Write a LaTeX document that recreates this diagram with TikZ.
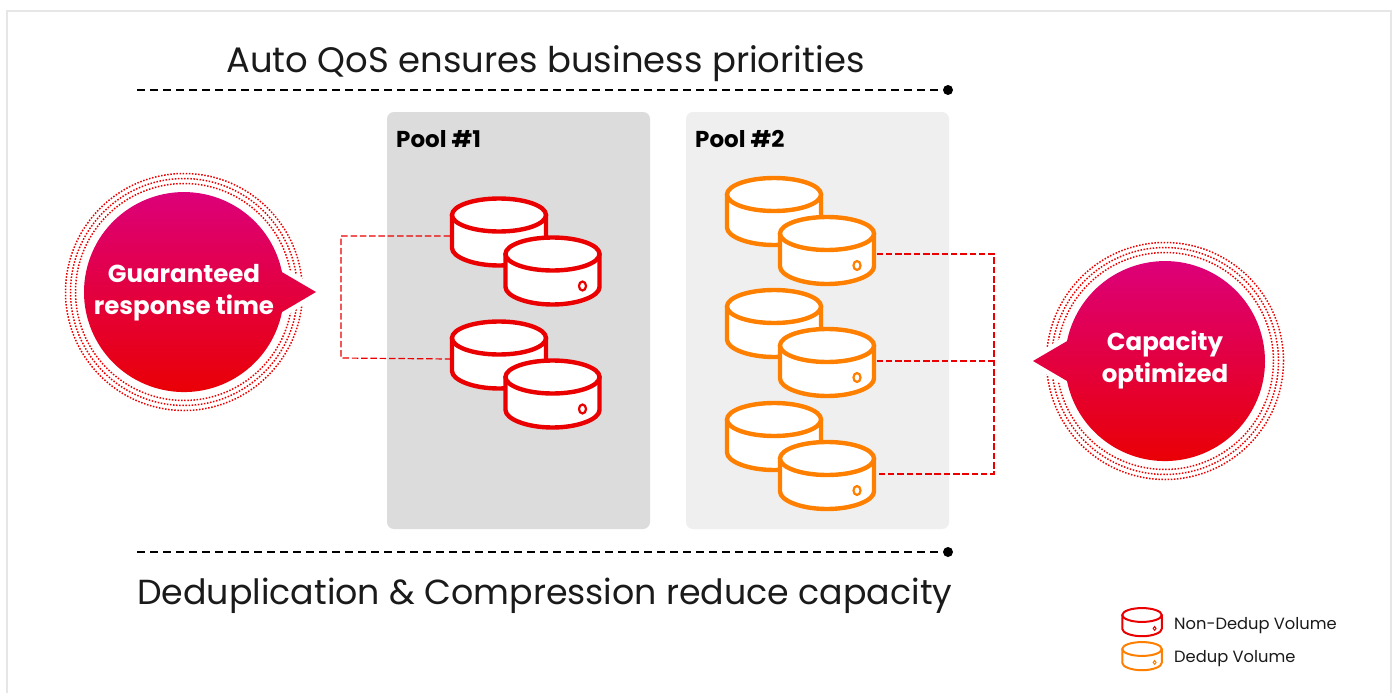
\documentclass[tikz,border=0pt]{standalone}
\usepackage{fontspec}
\setmainfont{Poppins}
\definecolor{fjred}{HTML}{EA0000}
\definecolor{fjmag}{HTML}{DC007F}
\definecolor{fjorange}{HTML}{FF8000}
\definecolor{poolA}{HTML}{DCDCDC}
\definecolor{poolB}{HTML}{EFEFEF}
\definecolor{framec}{HTML}{E6E6E6}
\definecolor{inkc}{HTML}{1A1A1A}
\tikzset{
  pics/cyl/.style n args={2}{code={
    \path[fill=white,draw=#1,line width=#2,line join=round]
      (-47,0) -- (-47,33) .. controls (-47,42) and (-26,50.5) .. (0,50.5)
      .. controls (26,50.5) and (47,42) .. (47,33) -- (47,0) -- cycle;
    \path[fill=white,draw=#1,line width=#2]
      (-47,0) .. controls (-47,-9) and (-26,-16.5) .. (0,-16.5)
      .. controls (26,-16.5) and (47,-9) .. (47,0)
      .. controls (47,9) and (26,16.5) .. (0,16.5)
      .. controls (-26,16.5) and (-47,9) .. (-47,0) -- cycle;
    \path[draw=#1,fill=white,line width=.5*#2]
      (26.5,32) .. controls (26.5,29.5) and (28,27.5) .. (30,27.5)
      .. controls (32,27.5) and (33.5,29.5) .. (33.5,32)
      .. controls (33.5,34.5) and (32,36.5) .. (30,36.5)
      .. controls (28,36.5) and (26.5,34.5) .. (26.5,32) -- cycle;
    \coordinate (-west) at (-49,21);
    \coordinate (-east) at (49.5,20);
  }},
  pool/.style={fill=#1,rounded corners=7pt},
  blackdash/.style={draw=black,line width=1.4pt,dash pattern=on 8pt off 5pt},
  reddash/.style={draw=fjred,line width=1.2pt,dash pattern=on 6.5pt off 2.8pt},
  ring/.style={draw=fjred,line width=1.5pt,dash pattern=on 1.5pt off 1.6pt},
  bubbletext/.style={text=white,font=\bfseries\fontsize{24.5}{32}\selectfont,align=center,inner sep=0pt},
  headtext/.style={text=inkc,anchor=base west,inner sep=0pt},
  pooltext/.style={text=black,font=\bfseries\fontsize{23}{26}\selectfont,anchor=west,inner sep=0pt},
  legtext/.style={text=inkc,font=\fontsize{16.3}{20}\selectfont,anchor=west,inner sep=0pt},
}
\begin{document}
\begin{tikzpicture}[x=1pt,y=-1pt]
\useasboundingbox (0,0) rectangle (1398,693);
\fill[white] (0,0) rectangle (1398,693);
\draw[framec,line width=2pt] (7,693) -- (7,11) -- (1391,11) -- (1391,693);

% headings
\node[headtext,font=\fontsize{35.4}{44}\selectfont] (title) at (226,72.5) {Auto QoS ensures business priorities};
\node[headtext,font=\fontsize{34.8}{44}\selectfont] (subtitle) at (137,604) {Deduplication \& Compression reduce capacity};
\coordinate (t0) at (137,90);
\node[circle,fill=black,inner sep=0pt,minimum size=10pt] (t1) at (948,90) {};
\draw[blackdash] (t0) -- (t1);
\coordinate (b0) at (137,552);
\node[circle,fill=black,inner sep=0pt,minimum size=10pt] (b1) at (948,552) {};
\draw[blackdash] (b0) -- (b1);

% pools
\fill[pool=poolA] (387,112) rectangle (650,529);
\fill[pool=poolB] (686,112) rectangle (949,529);
\node[pooltext] (p1) at (396,139) {Pool \#1};
\node[pooltext] (p2) at (695,139) {Pool \#2};

% connector corners
\coordinate (la) at (341,236);
\coordinate (lb) at (341,358);
\coordinate (ra) at (994,254);
\coordinate (rb) at (994,361);
\coordinate (rc) at (994,474);

% pool 1 volumes
\pic (a1) at (499,215) {cyl={fjred}{4.4pt}};
\pic (a2) at (552.5,254) {cyl={fjred}{4.4pt}};
\pic (a3) at (499,338) {cyl={fjred}{4.4pt}};
\pic (a4) at (552.5,377) {cyl={fjred}{4.4pt}};
% pool 2 volumes
\pic (b1c) at (774,194.5) {cyl={fjorange}{4.4pt}};
\pic (b2c) at (827,233.5) {cyl={fjorange}{4.4pt}};
\pic (b3c) at (774,306.5) {cyl={fjorange}{4.4pt}};
\pic (b4c) at (827,345.5) {cyl={fjorange}{4.4pt}};
\pic (b5c) at (774,419.5) {cyl={fjorange}{4.4pt}};
\pic (b6c) at (827,458.5) {cyl={fjorange}{4.4pt}};

\draw[reddash] (a1-west) -- (la) -- (lb) -- (a3-west);
\draw[reddash] (b2c-east |- ra) -- (ra) -- (rc) -- (b6c-east |- rc);
\draw[reddash] (b4c-east |- rb) -- (rb);

% left bubble
\foreach \r in {108.5,113.5,118.5} \draw[ring] (184,292) circle (\r pt);
\fill[white] (280,264) -- (323,292) -- (280,320) -- cycle;
\shade[top color=fjmag,bottom color=fjred,middle color=fjmag!50!fjred,shading angle=0]
  (282,312) arc[start angle=-11.5,end angle=-348.5,radius=100pt] -- (316,292) -- cycle;
\node[bubbletext] (gl) at (184,293) {Guaranteed\\response time};

% right bubble
\foreach \r in {108.5,113.5,118.5} \draw[ring] (1165,361) circle (\r pt);
\fill[white] (1069,333) -- (1026,361) -- (1069,389) -- cycle;
\shade[top color=fjmag,bottom color=fjred,middle color=fjmag!50!fjred,shading angle=0]
  (1067,381) arc[start angle=191.5,end angle=528.5,radius=100pt] -- (1033,361) -- cycle;
\node[bubbletext] (gr) at (1165,360) {Capacity\\optimized};

% legend
\pic[scale=.42] (k1) at (1142,615) {cyl={fjred}{2pt}};
\pic[scale=.42] (k2) at (1142,649) {cyl={fjorange}{2pt}};
\node[legtext] (l1) at (1174,626) {Non-Dedup Volume};
\node[legtext] (l2) at (1174,659) {Dedup Volume};
\end{tikzpicture}
\end{document}
